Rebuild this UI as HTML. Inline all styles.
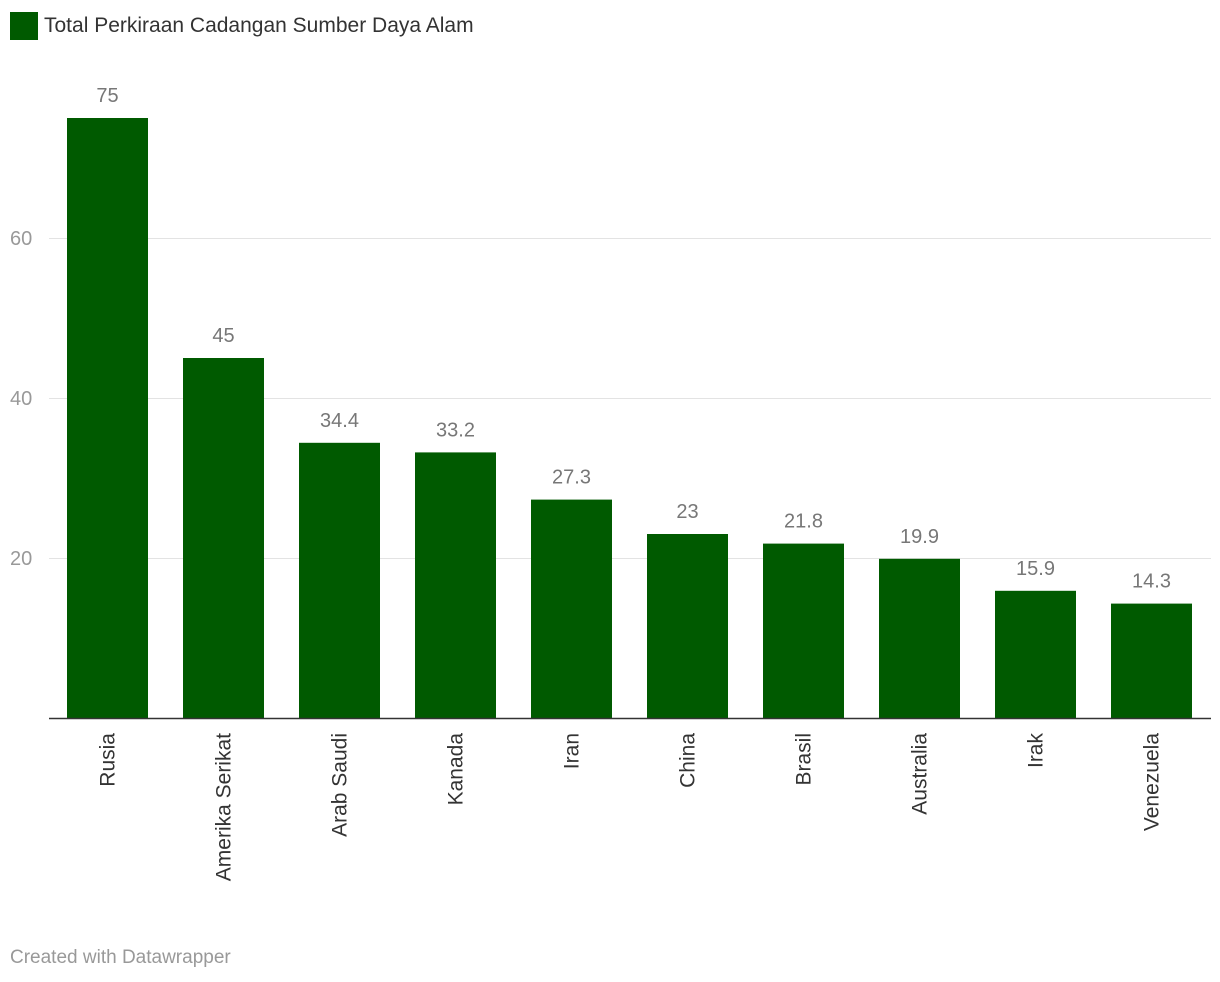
<!DOCTYPE html>
<html><head><meta charset="utf-8">
<style>
body{margin:0;background:#fff;font-family:"Liberation Sans",Arial,sans-serif;}
svg{display:block}
</style></head>
<body>
<svg id="chart" width="1220" height="982">
  <rect x="10" y="12" width="28" height="28" fill="#005a00"/>
  <text x="44" y="32" font-size="21" fill="#333">Total Perkiraan Cadangan Sumber Daya Alam</text>
  <g id="grid"></g>
  <g id="bars"></g>
  <line x1="49" x2="1211" y1="718.5" y2="718.5" stroke="#333" stroke-width="1.5"/>
  <text x="10" y="963" font-size="19" fill="#999">Created with Datawrapper</text>
</svg>
<script>
const categories=["Rusia","Amerika Serikat","Arab Saudi","Kanada","Iran","China","Brasil","Australia","Irak","Venezuela"];
const values=[75,45,34.4,33.2,27.3,23,21.8,19.9,15.9,14.3];
const valueLabels=["75","45","34.4","33.2","27.3","23","21.8","19.9","15.9","14.3"];
const yTicks=[20,40,60];
const NS="http://www.w3.org/2000/svg";
const x0=49.5,step=116,bw=81,y0=718;
function yScale(v){return y0-v*8;}
function xScale(i){return x0+i*step+(step-bw)/2;}
const grid=document.getElementById('grid'),bars=document.getElementById('bars');
yTicks.forEach(t=>{
  const l=document.createElementNS(NS,'line');
  
  
  l.setAttribute('x1',49);l.setAttribute('x2',1211);
  l.setAttribute('y1',yScale(t)+0.5);l.setAttribute('y2',yScale(t)+0.5);
  l.setAttribute('stroke','#e3e3e3');
  grid.appendChild(l);
  const tx=document.createElementNS(NS,'text');
  
  
  tx.setAttribute('x',10);tx.setAttribute('y',yScale(t)+7);
  tx.setAttribute('font-size','20');tx.setAttribute('fill','#999');
  tx.textContent=t;grid.appendChild(tx);
});
values.forEach((v,i)=>{
  const x=xScale(i);
  const r=document.createElementNS(NS,'rect');
  
  
  r.setAttribute('x',x);r.setAttribute('y',yScale(v));
  r.setAttribute('width',bw);r.setAttribute('height',y0-yScale(v));
  r.setAttribute('fill','#005a00');
  bars.appendChild(r);
  const t=document.createElementNS(NS,'text');
  
  
  t.setAttribute('x',x+bw/2);t.setAttribute('y',yScale(v)-16);
  t.setAttribute('text-anchor','middle');t.setAttribute('font-size','20');t.setAttribute('fill','#777');
  t.textContent=valueLabels[i];bars.appendChild(t);
  const c=document.createElementNS(NS,'text');
  
  
  const cx=x+bw/2+7,cy=733;
  c.setAttribute('x',cx);c.setAttribute('y',cy);
  c.setAttribute('transform','rotate(-90 '+cx+' '+cy+')');
  c.setAttribute('text-anchor','end');c.setAttribute('font-size','21');c.setAttribute('fill','#333');
  c.textContent=categories[i];bars.appendChild(c);
});
</script>
</body></html>
